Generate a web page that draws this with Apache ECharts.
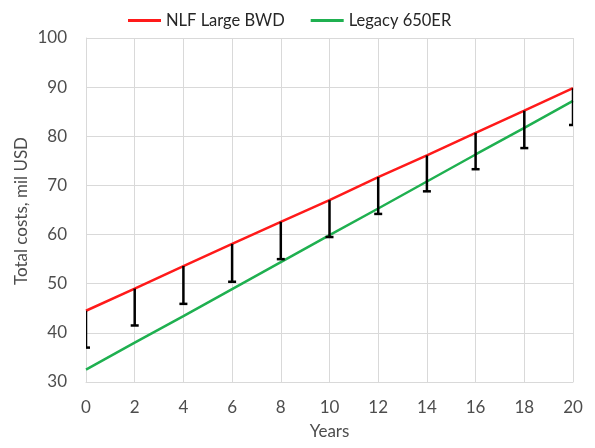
<!DOCTYPE html>
<html>
<head>
<meta charset="utf-8">
<script src="https://cdn.jsdelivr.net/npm/echarts@6/dist/echarts.min.js"></script>
<style>
  html, body { margin: 0; padding: 0; background: #fff; }
  #chart { width: 595px; height: 448px; }
</style>
</head>
<body>
<div id="chart"></div>
<script>
// Cost over aircraft service life
const years = [0, 2, 4, 6, 8, 10, 12, 14, 16, 18, 20];
const nlfLarge = [44.5, 49.0, 53.6, 58.1, 62.6, 67.0, 71.7, 76.1, 80.7, 85.2, 89.8];
const legacy650 = [32.5, 38.0, 43.4, 48.9, 54.4, 59.9, 65.3, 70.8, 76.3, 81.7, 87.2];
// Lower end of the NLF uncertainty range
const nlfLow = [37.0, 41.5, 45.9, 50.4, 55.0, 59.5, 64.2, 68.8, 73.3, 77.6, 82.3];

const FONT = 'Lato, "Open Sans", sans-serif';
const GRID_COLOR = '#d9d9d9';
const LABEL_COLOR = '#4d4d4d';

const chart = echarts.init(document.getElementById('chart'));

chart.setOption({
  animation: false,
  backgroundColor: '#ffffff',
  legend: {
    data: ['NLF Large BWD', 'Legacy 650ER'],
    left: 123,
    top: 7,
    icon: 'rect',
    itemWidth: 33,
    itemHeight: 3,
    itemGap: 26,
    textStyle: { fontFamily: FONT, fontSize: 16.5, color: '#262626' }
  },
  grid: { left: 86, right: 22, top: 38, bottom: 66 },
  // vertical axis title, placed beside the value labels
  graphic: [{
    type: 'text',
    x: 22,
    y: 211,
    rotation: Math.PI / 2,
    style: {
      text: 'Total costs, mil USD',
      fontFamily: FONT,
      fontSize: 17,
      fill: LABEL_COLOR,
      align: 'center',
      verticalAlign: 'middle'
    }
  }],
  xAxis: {
    type: 'value',
    min: 0,
    max: 20,
    interval: 2,
    name: 'Years',
    nameLocation: 'middle',
    nameGap: 41,
    nameTextStyle: { fontFamily: FONT, fontSize: 17, color: LABEL_COLOR },
    axisLine: { show: true, lineStyle: { color: GRID_COLOR, width: 1 } },
    axisTick: { show: false },
    axisLabel: { fontFamily: FONT, fontSize: 17, color: LABEL_COLOR, margin: 17 },
    splitLine: { show: true, lineStyle: { color: GRID_COLOR, width: 1 } }
  },
  yAxis: {
    type: 'value',
    min: 30,
    max: 100,
    interval: 10,
    axisLine: { show: true, lineStyle: { color: GRID_COLOR, width: 1 } },
    axisTick: { show: false },
    axisLabel: { fontFamily: FONT, fontSize: 17, color: LABEL_COLOR, margin: 19 },
    splitLine: { show: true, lineStyle: { color: GRID_COLOR, width: 1 } }
  },
  series: [
    {
      name: 'Legacy 650ER',
      type: 'line',
      data: years.map((x, i) => [x, legacy650[i]]),
      symbol: 'none',
      lineStyle: { color: '#1fb050', width: 2.5 },
      itemStyle: { color: '#1fb050' },
      z: 2
    },
    {
      name: 'NLF Large BWD',
      type: 'line',
      data: years.map((x, i) => [x, nlfLarge[i]]),
      symbol: 'none',
      lineStyle: { color: '#ff1a1a', width: 2.5 },
      itemStyle: { color: '#ff1a1a' },
      z: 3
    },
    {
      name: 'NLF range',
      type: 'custom',
      clip: true,
      z: 4,
      data: years.map((x, i) => [x, nlfLarge[i], nlfLow[i]]),
      renderItem: function (params, api) {
        const top = api.coord([api.value(0), api.value(1)]);
        const bot = api.coord([api.value(0), api.value(2)]);
        const half = 4;
        const style = { stroke: '#000', lineWidth: 2.5 };
        return {
          type: 'group',
          children: [
            { type: 'line', shape: { x1: top[0], y1: top[1], x2: bot[0], y2: bot[1] }, style: style },
            { type: 'line', shape: { x1: bot[0] - half, y1: bot[1], x2: bot[0] + half, y2: bot[1] }, style: style }
          ]
        };
      }
    }
  ]
});
</script>
</body>
</html>
